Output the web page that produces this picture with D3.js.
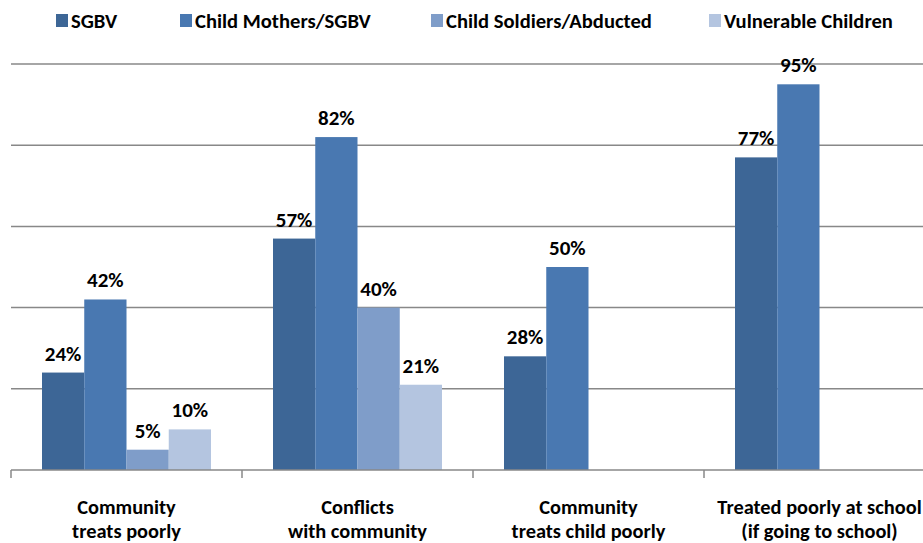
<!DOCTYPE html>
<html><head><meta charset="utf-8">
<script src="https://cdn.jsdelivr.net/npm/d3@7"></script>
<style>
html,body{margin:0;padding:0;background:#fff;}
svg{display:block;}
text{font-family:Carlito,'Liberation Sans Narrow','DejaVu Sans Condensed',Lato,sans-serif;font-weight:bold;fill:#000;}
</style></head>
<body>
<svg id="chart" width="923" height="543"></svg>
<script>
const categories = [["Community","treats poorly"],["Conflicts","with community"],["Community","treats child poorly"],["Treated poorly at school","(if going to school)"]];
const seriesNames = ["SGBV","Child Mothers/SGBV","Child Soldiers/Abducted","Vulnerable Children"];
const seriesColors = ["#3d6696","#4978b1","#7f9dc9","#b4c5e0"];
const sgbv = [24,57,28,77];
const childMothers = [42,82,50,95];
const childSoldiers = [5,40,null,null];
const vulnerable = [10,21,null,null];
const gridTicks = [0,20,40,60,80,100];

const values = [sgbv, childMothers, childSoldiers, vulnerable];
const svg = d3.select("#chart");
const W = 923;

const x0 = d3.scaleBand().domain(d3.range(categories.length)).range([11,935]).padding(0);
const x1 = d3.scaleBand().domain(d3.range(seriesNames.length)).range([31,200]).padding(0);
const y = d3.scaleLinear().domain([0,100]).range([470,64]);

// gridlines
svg.append("g").selectAll("line").data(gridTicks.filter(d=>d>0)).join("line")
  .attr("x1",11).attr("x2",W).attr("y1",d=>y(d)).attr("y2",d=>y(d))
  .attr("stroke","#888").attr("stroke-width",1.5);

// bars
const groups = svg.append("g").selectAll("g").data(categories).join("g")
  .attr("transform",(d,i)=>`translate(${x0(i)},0)`);
groups.each(function(c,ci){
  const g = d3.select(this);
  values.forEach((arr,si)=>{
    const v = arr[ci];
    if(v==null) return;
    g.append("rect").attr("x",x1(si)).attr("width",x1.bandwidth())
      .attr("y",y(v)).attr("height",y(0)-y(v)).attr("fill",seriesColors[si]);
    g.append("text").attr("x",x1(si)+x1.bandwidth()/2).attr("y",y(v)-12)
      .attr("text-anchor","middle").attr("font-size",21).text(v+"%");
  });
});

// x axis
const axis = svg.append("g").attr("transform","translate(0,470)");
axis.append("line").attr("x1",11).attr("x2",W).attr("stroke","#888").attr("stroke-width",1.5);
axis.selectAll("line.tick").data(d3.range(categories.length)).join("line").attr("class","tick")
  .attr("x1",d=>x0(d)).attr("x2",d=>x0(d)).attr("y1",0).attr("y2",8)
  .attr("stroke","#888").attr("stroke-width",1.5);
const labels = svg.append("g").selectAll("text").data(categories).join("text")
  .attr("text-anchor","middle").attr("font-size",20.4)
  .attr("transform",(d,i)=>`translate(${x0(i)+x0.bandwidth()/2},0)`);
labels.each(function(d){
  d3.select(this).selectAll("tspan").data(d).join("tspan")
    .attr("x",0).attr("y",(t,j)=>514+j*24).text(t=>t);
});

// legend
const legendX = [56,180,431,709];
const legend = svg.append("g").selectAll("g").data(seriesNames).join("g")
  .attr("transform",(d,i)=>`translate(${legendX[i]},14)`);
legend.append("rect").attr("width",12).attr("height",13).attr("fill",(d,i)=>seriesColors[i]);
legend.append("text").attr("x",15).attr("y",13.5).attr("font-size",20.6).text(d=>d);
</script>
</body></html>
